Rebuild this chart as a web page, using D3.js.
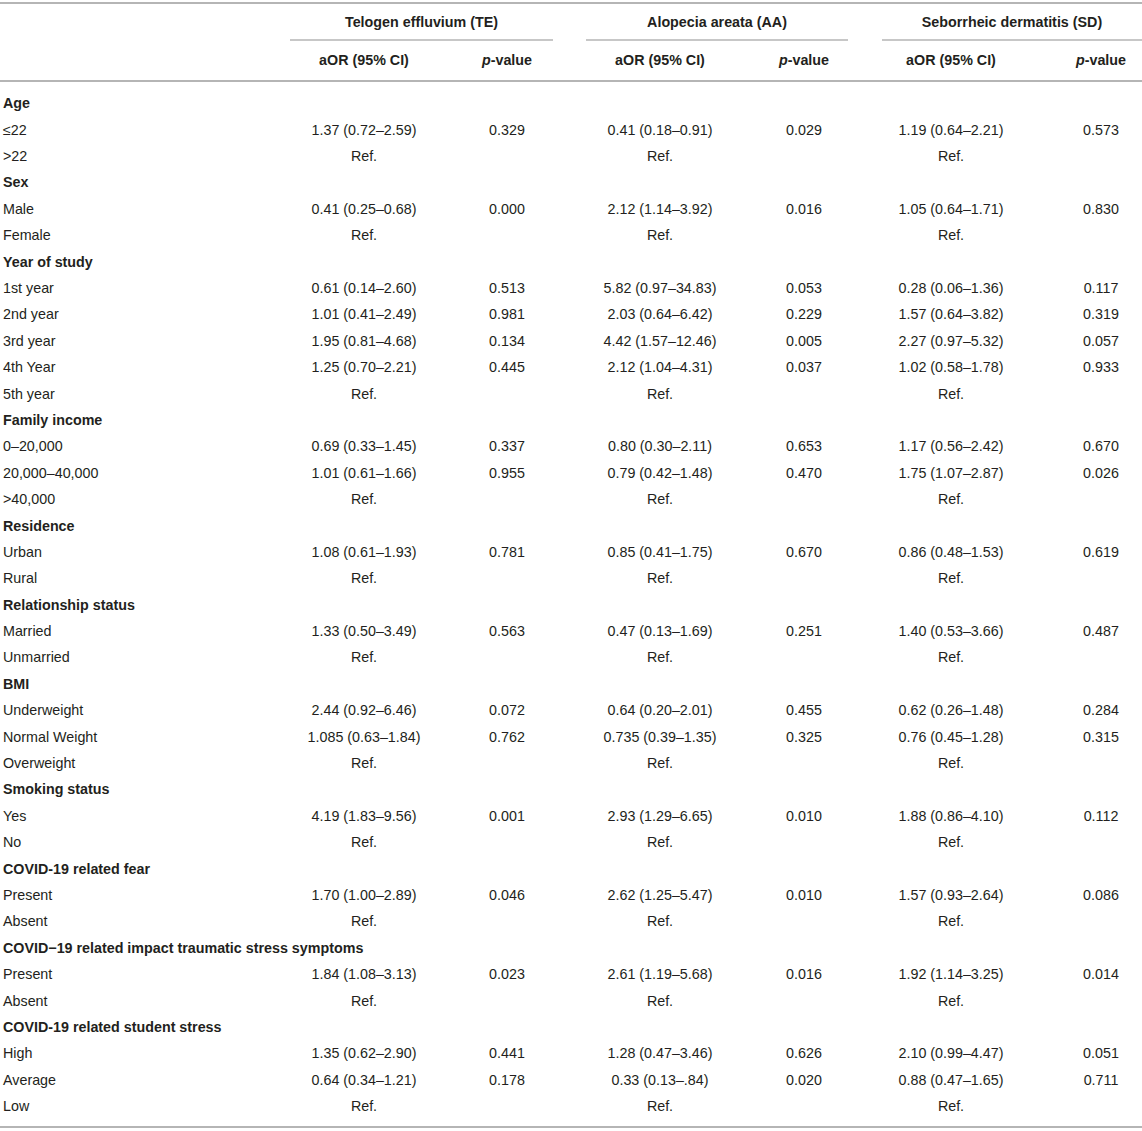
<!DOCTYPE html>
<html>
<head>
<meta charset="utf-8">
<script src="https://cdn.jsdelivr.net/npm/d3@7"></script>
<style>
  html, body { margin: 0; padding: 0; background: #fff; }
  svg text { font-family: "Liberation Sans", Arial, Helvetica, sans-serif; font-size: 14.3px; fill: #231f20; }
  svg text.bold { font-weight: bold; }
</style>
</head>
<body>
<div id="table"></div>
<script>
// ---- table content ----
const groups = ['Telogen effluvium (TE)', 'Alopecia areata (AA)', 'Seborrheic dermatitis (SD)'];
const subHeaders = ['aOR (95% CI)', 'p-value'];

const rowLabels = [
  'Age', '≤22', '>22',
  'Sex', 'Male', 'Female',
  'Year of study', '1st year', '2nd year', '3rd year', '4th Year', '5th year',
  'Family income', '0–20,000', '20,000–40,000', '>40,000',
  'Residence', 'Urban', 'Rural',
  'Relationship status', 'Married', 'Unmarried',
  'BMI', 'Underweight', 'Normal Weight', 'Overweight',
  'Smoking status', 'Yes', 'No',
  'COVID-19 related fear', 'Present', 'Absent',
  'COVID−19 related impact traumatic stress symptoms', 'Present', 'Absent',
  'COVID-19 related student stress', 'High', 'Average', 'Low'
];

const sectionRows = [
  'Age', 'Sex', 'Year of study', 'Family income', 'Residence', 'Relationship status',
  'BMI', 'Smoking status', 'COVID-19 related fear',
  'COVID−19 related impact traumatic stress symptoms', 'COVID-19 related student stress'
];

// '' = section row, 'Ref.' = reference category
const teOR = [
  '', '1.37 (0.72–2.59)', 'Ref.',
  '', '0.41 (0.25–0.68)', 'Ref.',
  '', '0.61 (0.14–2.60)', '1.01 (0.41–2.49)', '1.95 (0.81–4.68)', '1.25 (0.70–2.21)', 'Ref.',
  '', '0.69 (0.33–1.45)', '1.01 (0.61–1.66)', 'Ref.',
  '', '1.08 (0.61–1.93)', 'Ref.',
  '', '1.33 (0.50–3.49)', 'Ref.',
  '', '2.44 (0.92–6.46)', '1.085 (0.63–1.84)', 'Ref.',
  '', '4.19 (1.83–9.56)', 'Ref.',
  '', '1.70 (1.00–2.89)', 'Ref.',
  '', '1.84 (1.08–3.13)', 'Ref.',
  '', '1.35 (0.62–2.90)', '0.64 (0.34–1.21)', 'Ref.'
];
const teP = [
  '', '0.329', '',
  '', '0.000', '',
  '', '0.513', '0.981', '0.134', '0.445', '',
  '', '0.337', '0.955', '',
  '', '0.781', '',
  '', '0.563', '',
  '', '0.072', '0.762', '',
  '', '0.001', '',
  '', '0.046', '',
  '', '0.023', '',
  '', '0.441', '0.178', ''
];

const aaOR = [
  '', '0.41 (0.18–0.91)', 'Ref.',
  '', '2.12 (1.14–3.92)', 'Ref.',
  '', '5.82 (0.97–34.83)', '2.03 (0.64–6.42)', '4.42 (1.57–12.46)', '2.12 (1.04–4.31)', 'Ref.',
  '', '0.80 (0.30–2.11)', '0.79 (0.42–1.48)', 'Ref.',
  '', '0.85 (0.41–1.75)', 'Ref.',
  '', '0.47 (0.13–1.69)', 'Ref.',
  '', '0.64 (0.20–2.01)', '0.735 (0.39–1.35)', 'Ref.',
  '', '2.93 (1.29–6.65)', 'Ref.',
  '', '2.62 (1.25–5.47)', 'Ref.',
  '', '2.61 (1.19–5.68)', 'Ref.',
  '', '1.28 (0.47–3.46)', '0.33 (0.13–.84)', 'Ref.'
];
const aaP = [
  '', '0.029', '',
  '', '0.016', '',
  '', '0.053', '0.229', '0.005', '0.037', '',
  '', '0.653', '0.470', '',
  '', '0.670', '',
  '', '0.251', '',
  '', '0.455', '0.325', '',
  '', '0.010', '',
  '', '0.010', '',
  '', '0.016', '',
  '', '0.626', '0.020', ''
];

const sdOR = [
  '', '1.19 (0.64–2.21)', 'Ref.',
  '', '1.05 (0.64–1.71)', 'Ref.',
  '', '0.28 (0.06–1.36)', '1.57 (0.64–3.82)', '2.27 (0.97–5.32)', '1.02 (0.58–1.78)', 'Ref.',
  '', '1.17 (0.56–2.42)', '1.75 (1.07–2.87)', 'Ref.',
  '', '0.86 (0.48–1.53)', 'Ref.',
  '', '1.40 (0.53–3.66)', 'Ref.',
  '', '0.62 (0.26–1.48)', '0.76 (0.45–1.28)', 'Ref.',
  '', '1.88 (0.86–4.10)', 'Ref.',
  '', '1.57 (0.93–2.64)', 'Ref.',
  '', '1.92 (1.14–3.25)', 'Ref.',
  '', '2.10 (0.99–4.47)', '0.88 (0.47–1.65)', 'Ref.'
];
const sdP = [
  '', '0.573', '',
  '', '0.830', '',
  '', '0.117', '0.319', '0.057', '0.933', '',
  '', '0.670', '0.026', '',
  '', '0.619', '',
  '', '0.487', '',
  '', '0.284', '0.315', '',
  '', '0.112', '',
  '', '0.086', '',
  '', '0.014', '',
  '', '0.051', '0.711', ''
];

// ---- layout ----
const width = 1142, height = 1131;
const lineColor = '#b5b5b5';

const svg = d3.select('#table').append('svg')
  .attr('width', width)
  .attr('height', height);

// row positions (cap-centre of each body row)
const y = d3.scaleLinear().domain([0, rowLabels.length - 1]).range([103, 1106]);
const baseShift = 5.2;

// group spans for the underline under each disease header
const groupSpan = d3.scaleOrdinal().domain(groups).range([[290, 553], [586, 848], [882, 1142]]);
// column centres: [aOR, p] per group
const colCenter = d3.scaleOrdinal().domain(groups).range([[364, 507], [660, 804], [951, 1101]]);

const columns = [
  { group: groups[0], or: teOR, p: teP },
  { group: groups[1], or: aaOR, p: aaP },
  { group: groups[2], or: sdOR, p: sdP }
];

// horizontal rules
const rules = [3, 81, 1127];
svg.selectAll('line.rule')
  .data(rules)
  .enter().append('line')
  .attr('class', 'rule')
  .attr('x1', 0).attr('x2', width)
  .attr('y1', d => d).attr('y2', d => d)
  .attr('stroke', lineColor)
  .attr('stroke-width', 2);

// group headers + underlines
svg.selectAll('text.group')
  .data(groups)
  .enter().append('text')
  .attr('class', 'group bold')
  .attr('text-anchor', 'middle')
  .attr('x', d => (groupSpan(d)[0] + groupSpan(d)[1]) / 2)
  .attr('y', 27)
  .text(d => d);

svg.selectAll('line.group')
  .data(groups)
  .enter().append('line')
  .attr('class', 'group')
  .attr('x1', d => groupSpan(d)[0]).attr('x2', d => groupSpan(d)[1])
  .attr('y1', 40).attr('y2', 40)
  .attr('stroke', lineColor)
  .attr('stroke-width', 1.5);

// sub headers (italic "p" in p-value)
groups.forEach(g => {
  const [cx1, cx2] = colCenter(g);
  svg.append('text')
    .attr('class', 'bold')
    .attr('text-anchor', 'middle')
    .attr('x', cx1).attr('y', 65)
    .text(subHeaders[0]);
  const pt = svg.append('text')
    .attr('class', 'bold')
    .attr('text-anchor', 'middle')
    .attr('x', cx2).attr('y', 65);
  pt.append('tspan').style('font-style', 'italic').text(subHeaders[1].slice(0, 1));
  pt.append('tspan').text(subHeaders[1].slice(1));
});

// row labels
svg.selectAll('text.label')
  .data(rowLabels)
  .enter().append('text')
  .attr('class', d => sectionRows.includes(d) ? 'label bold' : 'label')
  .attr('x', 3)
  .attr('y', (d, i) => y(i) + baseShift)
  .text(d => d);

// body cells
columns.forEach(col => {
  const [cx1, cx2] = colCenter(col.group);
  svg.append('g').selectAll('text')
    .data(col.or)
    .enter().append('text')
    .attr('text-anchor', 'middle')
    .attr('x', cx1)
    .attr('y', (d, i) => y(i) + baseShift)
    .text(d => d);
  svg.append('g').selectAll('text')
    .data(col.p)
    .enter().append('text')
    .attr('text-anchor', 'middle')
    .attr('x', cx2)
    .attr('y', (d, i) => y(i) + baseShift)
    .text(d => d);
});
</script>
</body>
</html>
